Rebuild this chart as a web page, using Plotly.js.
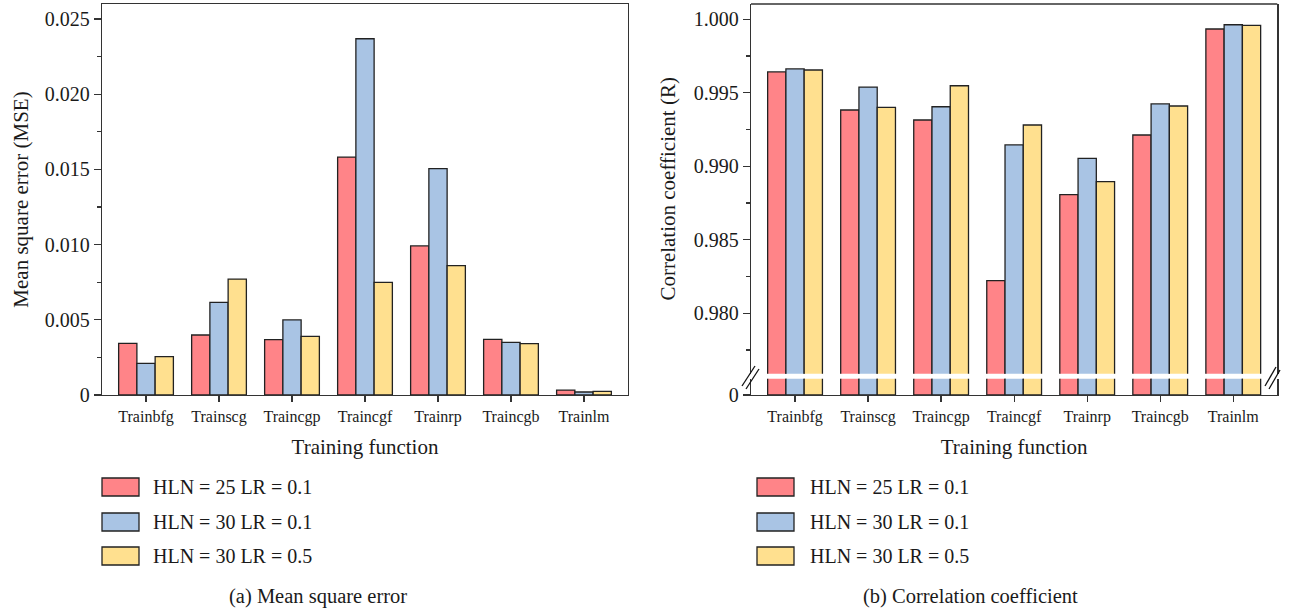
<!DOCTYPE html>
<html>
<head>
<meta charset="utf-8">
<script src="https://cdn.plot.ly/plotly-3.0.1.min.js"></script>
<style>html,body{margin:0;padding:0;background:#fff;}#chart{width:1289px;height:612px;}</style>
</head>
<body>
<div id="chart"></div>
<script>
// ---------- data ----------
const categories = ['Trainbfg', 'Trainscg', 'Traincgp', 'Traincgf', 'Trainrp', 'Traincgb', 'Trainlm'];
const seriesNames = ['HLN = 25 LR = 0.1', 'HLN = 30 LR = 0.1', 'HLN = 30 LR = 0.5'];

const mseHLN25LR01 = [0.00343, 0.00399, 0.00368, 0.01582, 0.00991, 0.00370, 0.00033];
const mseHLN30LR01 = [0.00210, 0.00616, 0.00499, 0.02369, 0.01505, 0.00350, 0.00020];
const mseHLN30LR05 = [0.00255, 0.00771, 0.00390, 0.00749, 0.00860, 0.00341, 0.00024];

const rHLN25LR01 = [0.99642, 0.99383, 0.99315, 0.98222, 0.98807, 0.99213, 0.99934];
const rHLN30LR01 = [0.99662, 0.99539, 0.99405, 0.99145, 0.99054, 0.99424, 0.99963];
const rHLN30LR05 = [0.99655, 0.99401, 0.99548, 0.99281, 0.98895, 0.99410, 0.99959];

const mseTickVals = [0, 0.005, 0.010, 0.015, 0.020, 0.025];
const mseTickText = ['0', '0.005', '0.010', '0.015', '0.020', '0.025'];
const rLowTickVals = [0];
const rLowTickText = ['0'];

const xTitle = 'Training function';
const mseTitle = 'Mean square error (MSE)';
const rTitle = 'Correlation coefficient (R)';
const captionA = '(a) Mean square error';
const captionB = '(b) Correlation coefficient';

// ---------- styling ----------
const W = 1289, H = 612;
const FONT = 'Liberation Serif, Times New Roman, serif';
const colors = ['#FF8488', '#A9C4E4', '#FFE08F'];
const edge = '#222222';
const axisColor = '#333333';
const px = x => x / W;
const py = y => 1 - y / H;

const mseSeries = [mseHLN25LR01, mseHLN30LR01, mseHLN30LR05];
const rSeries = [rHLN25LR01, rHLN30LR01, rHLN30LR05];

const traces = [];
mseSeries.forEach((vals, i) => {
  traces.push({type: 'bar', x: categories, y: vals, name: seriesNames[i], xaxis: 'x', yaxis: 'y',
    marker: {color: colors[i], line: {color: edge, width: 1.3}}, showlegend: false, hoverinfo: 'x+y'});
});
rSeries.forEach((vals, i) => {
  traces.push({type: 'bar', x: categories, y: vals, name: seriesNames[i], xaxis: 'x2', yaxis: 'y3',
    marker: {color: colors[i], line: {color: edge, width: 1.3}}, showlegend: false, hoverinfo: 'x+y'});
});
rSeries.forEach((vals, i) => {
  traces.push({type: 'bar', x: categories, y: vals, name: seriesNames[i], xaxis: 'x2', yaxis: 'y2',
    marker: {color: colors[i], line: {color: edge, width: 1.3}}, showlegend: false, hoverinfo: 'x+y'});
});

const bottomY = py(395);
const xRange = [-0.603, categories.length - 1 + 0.603];

const tickFontY = {family: FONT, size: 20, color: '#1a1a1a'};
const tickFontX = {family: FONT, size: 16, color: '#1a1a1a'};
const titleFont = {family: FONT, size: 21, color: '#1a1a1a'};

const commonX = {
  type: 'category', range: xRange, showline: true, linecolor: axisColor, linewidth: 1.3,
  ticks: 'outside', ticklen: 6, tickwidth: 1.3, tickcolor: axisColor,
  tickfont: tickFontX, showgrid: false, zeroline: false, fixedrange: true
};
const commonY = {
  showline: true, linecolor: axisColor, linewidth: 1.3, mirror: true,
  ticks: 'outside', ticklen: 7, tickwidth: 1.3, tickcolor: axisColor,
  tickfont: tickFontY, showgrid: false, zeroline: false, fixedrange: true
};

const shapes = [];
const annotations = [];

// top border of right panel
shapes.push({type: 'line', xref: 'x2 domain', yref: 'y3 domain', x0: 0, x1: 1, y0: 1, y1: 1,
  line: {color: axisColor, width: 1.3}});

// axis break marks
const breakMarks = [[742, 386, 755, 366], [746, 389, 759, 369], [1265, 386, 1276, 367], [1269, 389, 1280, 370]];
breakMarks.forEach(b => {
  shapes.push({type: 'line', xref: 'paper', yref: 'paper', x0: px(b[0]), y0: py(b[1]), x1: px(b[2]), y1: py(b[3]),
    line: {color: '#111', width: 1.3}});
});

// custom legends (one under each panel)
const legendRows = [487, 522, 556];
[[102, 151], [757, 808]].forEach(([sx, tx]) => {
  seriesNames.forEach((name, i) => {
    const cy = legendRows[i];
    shapes.push({type: 'rect', xref: 'paper', yref: 'paper', x0: px(sx), x1: px(sx + 37),
      y0: py(cy + 9), y1: py(cy - 9), fillcolor: colors[i], line: {color: edge, width: 1.3}});
    annotations.push({xref: 'paper', yref: 'paper', x: px(tx), y: py(cy), xanchor: 'left', yanchor: 'middle',
      text: name, showarrow: false, font: {family: FONT, size: 20, color: '#1a1a1a'}});
  });
});

// captions
annotations.push({xref: 'paper', yref: 'paper', x: px(318), y: py(596), xanchor: 'center', yanchor: 'middle',
  text: captionA, showarrow: false, font: {family: FONT, size: 20.5, color: '#1a1a1a'}});
annotations.push({xref: 'paper', yref: 'paper', x: px(970), y: py(596), xanchor: 'center', yanchor: 'middle',
  text: captionB, showarrow: false, font: {family: FONT, size: 20.5, color: '#1a1a1a'}});

const layout = {
  width: W, height: H,
  margin: {l: 0, r: 0, t: 0, b: 0},
  paper_bgcolor: '#ffffff', plot_bgcolor: '#ffffff',
  barmode: 'group', bargap: 0.25, bargroupgap: 0,
  showlegend: false,
  xaxis: Object.assign({}, commonX, {domain: [px(102), px(628)], anchor: 'y', mirror: true,
    title: {text: xTitle, font: titleFont, standoff: 14}}),
  yaxis: Object.assign({}, commonY, {domain: [bottomY, py(4)], anchor: 'x', range: [0, 0.026],
    tickmode: 'array', tickvals: mseTickVals, ticktext: mseTickText,
    minor: {dtick: 0.0025, tick0: 0, ticks: 'outside', ticklen: 4, tickwidth: 1.3, tickcolor: axisColor, showgrid: false},
    title: {text: mseTitle, font: titleFont, standoff: 10}}),
  xaxis2: Object.assign({}, commonX, {domain: [px(751), px(1277.3)], anchor: 'y2', mirror: false,
    title: {text: xTitle, font: titleFont, standoff: 14}}),
  yaxis2: Object.assign({}, commonY, {domain: [bottomY, py(378.7)], anchor: 'x2', range: [0, 0.05],
    tickmode: 'array', tickvals: rLowTickVals, ticktext: rLowTickText}),
  yaxis3: Object.assign({}, commonY, {domain: [py(373.7), py(4)], anchor: 'x2', range: [0.97589, 1.00104],
    tickmode: 'linear', tick0: 0.98, dtick: 0.005, tickformat: '.3f',
    minor: {dtick: 0.0025, tick0: 0.98, ticks: 'outside', ticklen: 4, tickwidth: 1.3, tickcolor: axisColor, showgrid: false},
    title: {text: rTitle, font: titleFont, standoff: 12}}),
  shapes: shapes,
  annotations: annotations
};

Plotly.newPlot('chart', traces, layout, {staticPlot: true, displayModeBar: false});
</script>
</body>
</html>
